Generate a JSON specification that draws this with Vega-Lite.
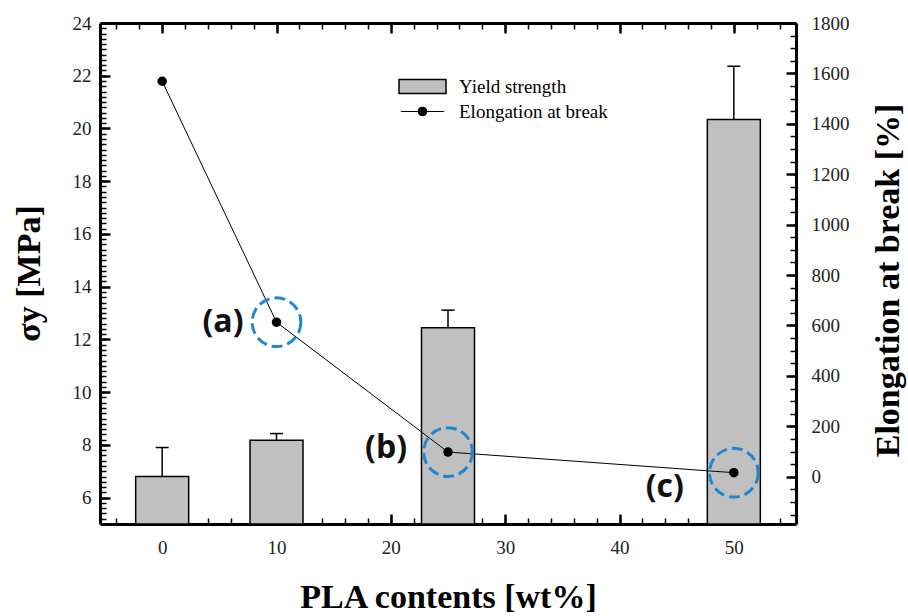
{
  "$schema": "https://vega.github.io/schema/vega-lite/v6.json",
  "width": 696,
  "height": 501,
  "autosize": "none",
  "padding": {"left": 100, "top": 23, "right": 112, "bottom": 92},
  "background": "white",
  "config": {
    "view": {"stroke": null},
    "axis": {
      "labelFont": "Liberation Serif",
      "titleFont": "Liberation Serif",
      "labelFontSize": 19,
      "labelColor": "#222222",
      "titleFontSize": 34,
      "titleFontWeight": "bold",
      "titleColor": "black",
      "domainColor": "black",
      "domainWidth": 3,
      "tickColor": "black",
      "grid": false,
      "labelFlush": false,
      "labelOverlap": false
    }
  },
  "data": {
    "values": [
      {"pla": 0, "yield": 6.8, "yield_hi": 7.9, "elong": 1569, "label": ""},
      {"pla": 10, "yield": 8.18, "yield_hi": 8.43, "elong": 613, "label": "(a)"},
      {"pla": 25, "yield": 12.44, "yield_hi": 13.11, "elong": 98, "label": "(b)"},
      {"pla": 50, "yield": 20.34, "yield_hi": 22.36, "elong": 16, "label": "(c)"}
    ]
  },
  "resolve": {"scale": {"y": "independent"}, "axis": {"x": "independent", "y": "independent"}},
  "layer": [
    {
      "mark": {"type": "bar", "width": 53, "stroke": "black", "strokeWidth": 1.5},
      "encoding": {
        "x": {"field": "pla", "type": "quantitative",
          "scale": {"domain": [-5, 55], "nice": false, "zero": false},
          "axis": {"orient": "bottom", "values": [0, 10, 20, 30, 40, 50], "ticks": false, "labelPadding": 14,
            "title": "PLA contents [wt%]", "titleX": 348, "titleY": 73, "titleBaseline": "middle", "titleAlign": "center"}},
        "y": {"field": "yield", "type": "quantitative",
          "scale": {"domain": [5, 24], "nice": false, "zero": false},
          "axis": {"orient": "left", "values": [6, 8, 10, 12, 14, 16, 18, 20, 22, 24], "ticks": false, "labelPadding": 9,
            "title": "σy [MPa]", "titleX": -71, "titleY": 250, "titleAngle": -90, "titleBaseline": "middle", "titleAlign": "center"}},
        "y2": {"datum": 5},
        "fill": {"datum": "Yield strength", "type": "nominal", "scale": {"range": ["#c0c0c0"]},
          "legend": {"orient": "none", "legendX": 298, "legendY": 39, "title": null, "padding": 0,
            "symbolType": "M-1,-0.3L1,-0.3L1,0.3L-1,0.3Z", "symbolSize": 2209,
            "symbolStrokeColor": "black", "symbolStrokeWidth": 1.5,
            "labelFont": "Liberation Serif", "labelFontSize": 19, "labelColor": "black", "labelOffset": 12,
            "encode": {"symbols": {"update": {"stroke": {"value": "black"}, "strokeWidth": {"value": 1.5}}}}}}
      }
    },
    {
      "mark": {"type": "rule", "color": "black", "strokeWidth": 1.5},
      "encoding": {
        "x": {"field": "pla", "type": "quantitative",
          "scale": {"domain": [-5, 55], "nice": false, "zero": false},
          "axis": {"orient": "bottom", "values": [0, 10, 20, 30, 40, 50], "labels": false, "tickSize": -10, "tickWidth": 2.5, "domain": false, "title": null}},
        "y": {"field": "yield", "type": "quantitative",
          "scale": {"domain": [5, 24], "nice": false, "zero": false},
          "axis": {"orient": "left", "values": [6, 8, 10, 12, 14, 16, 18, 20, 22, 24], "labels": false, "tickSize": -10, "tickWidth": 2.5, "domain": false, "title": null}},
        "y2": {"field": "yield_hi"}
      }
    },
    {
      "mark": {"type": "tick", "orient": "horizontal", "size": 13, "thickness": 1.5, "color": "black", "opacity": 1},
      "encoding": {
        "x": {"field": "pla", "type": "quantitative",
          "scale": {"domain": [-5, 55], "nice": false, "zero": false},
          "axis": {"orient": "bottom", "values": [-4, -2, 0, 2, 4, 6, 8, 10, 12, 14, 16, 18, 20, 22, 24, 26, 28, 30, 32, 34, 36, 38, 40, 42, 44, 46, 48, 50, 52, 54],
            "labels": false, "tickSize": -6, "tickWidth": 1.5, "domain": false, "title": null}},
        "y": {"field": "yield_hi", "type": "quantitative",
          "scale": {"domain": [5, 24], "nice": false, "zero": false},
          "axis": {"orient": "left", "values": [5.2,5.4,5.6,5.8,6,6.2,6.4,6.6,6.8,7,7.2,7.4,7.6,7.8,8,8.2,8.4,8.6,8.8,9,9.2,9.4,9.6,9.8,10,10.2,10.4,10.6,10.8,11,11.2,11.4,11.6,11.8,12,12.2,12.4,12.6,12.8,13,13.2,13.4,13.6,13.8,14,14.2,14.4,14.6,14.8,15,15.2,15.4,15.6,15.8,16,16.2,16.4,16.6,16.8,17,17.2,17.4,17.6,17.8,18,18.2,18.4,18.6,18.8,19,19.2,19.4,19.6,19.8,20,20.2,20.4,20.6,20.8,21,21.2,21.4,21.6,21.8,22,22.2,22.4,22.6,22.8,23,23.2,23.4,23.6,23.8],
            "labels": false, "tickSize": -6, "tickWidth": 1.5, "domain": false, "title": null}}
      }
    },
    {
      "mark": {"type": "line", "strokeWidth": 1},
      "encoding": {
        "x": {"field": "pla", "type": "quantitative",
          "scale": {"domain": [-5, 55], "nice": false, "zero": false},
          "axis": {"orient": "top", "values": [0, 10, 20, 30, 40, 50], "labels": false, "tickSize": -10, "tickWidth": 2.5, "domain": true, "title": null}},
        "y": {"field": "elong", "type": "quantitative",
          "scale": {"domain": [-187.5, 1800], "nice": false, "zero": false},
          "axis": {"orient": "right", "values": [0, 200, 400, 600, 800, 1000, 1200, 1400, 1600, 1800], "format": "d", "ticks": false, "labelPadding": 15,
            "title": "Elongation at break [%]", "titleX": 92, "titleY": 257, "titleAngle": 270, "titleBaseline": "middle", "titleAlign": "center"}},
        "stroke": {"datum": "Elongation at break", "type": "nominal", "scale": {"range": ["black"]},
          "legend": {"orient": "none", "legendX": 298, "legendY": 64, "title": null, "padding": 0,
            "symbolType": "M-0.92,0L0.92,0M0.18,0A0.18,0.18,0,1,1,-0.18,0A0.18,0.18,0,1,1,0.18,0Z", "symbolSize": 2209,
            "symbolStrokeWidth": 1.2, "symbolFillColor": "black",
            "labelFont": "Liberation Serif", "labelFontSize": 19, "labelColor": "black", "labelOffset": 12,
            "encode": {"symbols": {"update": {"fill": {"value": "black"}, "stroke": {"value": "black"}, "strokeWidth": {"value": 1.2}, "opacity": {"value": 1}}}}}}
      }
    },
    {
      "mark": {"type": "point", "filled": true, "color": "black", "size": 90, "opacity": 1},
      "encoding": {
        "x": {"field": "pla", "type": "quantitative",
          "scale": {"domain": [-5, 55], "nice": false, "zero": false},
          "axis": {"orient": "top", "values": [-4, -2, 0, 2, 4, 6, 8, 10, 12, 14, 16, 18, 20, 22, 24, 26, 28, 30, 32, 34, 36, 38, 40, 42, 44, 46, 48, 50, 52, 54],
            "labels": false, "tickSize": -6, "tickWidth": 1.5, "domain": false, "title": null}},
        "y": {"field": "elong", "type": "quantitative",
          "scale": {"domain": [-187.5, 1800], "nice": false, "zero": false},
          "axis": {"orient": "right", "values": [0, 200, 400, 600, 800, 1000, 1200, 1400, 1600, 1800], "labels": false, "tickSize": -10, "tickWidth": 2.5, "domain": false, "title": null}}
      }
    },
    {
      "transform": [{"filter": "datum.label != ''"}],
      "mark": {"type": "point", "shape": "circle", "filled": false, "stroke": "#1f86d1", "strokeWidth": 3, "strokeDash": [11, 5], "size": 2376, "opacity": 1},
      "encoding": {
        "x": {"field": "pla", "type": "quantitative", "scale": {"domain": [-5, 55], "nice": false, "zero": false}, "axis": null},
        "y": {"field": "elong", "type": "quantitative",
          "scale": {"domain": [-187.5, 1800], "nice": false, "zero": false},
          "axis": {"orient": "right", "values": [-150,-100,-50,0,50,100,150,200,250,300,350,400,450,500,550,600,650,700,750,800,850,900,950,1000,1050,1100,1150,1200,1250,1300,1350,1400,1450,1500,1550,1600,1650,1700,1750],
            "labels": false, "tickSize": -6, "tickWidth": 1.5, "domain": false, "title": null}}
      }
    },
    {
      "transform": [{"filter": "datum.label == '(a)'"}],
      "mark": {"type": "text", "font": "Open Sans", "fontWeight": "bold", "fontSize": 32, "color": "#111111", "align": "right", "baseline": "middle", "dx": -33, "dy": 0},
      "encoding": {
        "x": {"field": "pla", "type": "quantitative", "scale": {"domain": [-5, 55], "nice": false, "zero": false}, "axis": null},
        "y": {"field": "elong", "type": "quantitative", "scale": {"domain": [-187.5, 1800], "nice": false, "zero": false}, "axis": null},
        "text": {"field": "label"}
      }
    },
    {
      "transform": [{"filter": "datum.label == '(b)'"}],
      "mark": {"type": "text", "font": "Open Sans", "fontWeight": "bold", "fontSize": 32, "color": "#111111", "align": "right", "baseline": "middle", "dx": -41, "dy": -4},
      "encoding": {
        "x": {"field": "pla", "type": "quantitative", "scale": {"domain": [-5, 55], "nice": false, "zero": false}, "axis": null},
        "y": {"field": "elong", "type": "quantitative", "scale": {"domain": [-187.5, 1800], "nice": false, "zero": false}, "axis": null},
        "text": {"field": "label"}
      }
    },
    {
      "transform": [{"filter": "datum.label == '(c)'"}],
      "mark": {"type": "text", "font": "Open Sans", "fontWeight": "bold", "fontSize": 32, "color": "#111111", "align": "right", "baseline": "middle", "dx": -50, "dy": 14},
      "encoding": {
        "x": {"field": "pla", "type": "quantitative", "scale": {"domain": [-5, 55], "nice": false, "zero": false}, "axis": null},
        "y": {"field": "elong", "type": "quantitative", "scale": {"domain": [-187.5, 1800], "nice": false, "zero": false}, "axis": null},
        "text": {"field": "label"}
      }
    }
  ]
}
